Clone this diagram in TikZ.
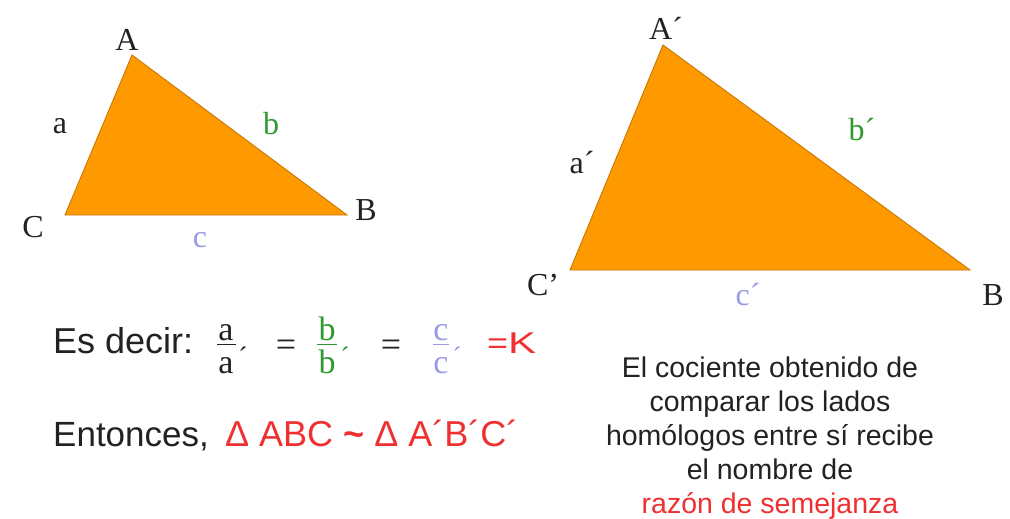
\documentclass[tikz,border=0pt]{standalone}
\usepackage{fontspec}
\setmainfont{Liberation Serif}
\setsansfont{Liberation Sans}
\definecolor{orng}{HTML}{FF9900}
\definecolor{edge}{HTML}{C87800}
\definecolor{grn}{HTML}{2E9A2E}
\definecolor{lav}{HTML}{9A9AE6}
\definecolor{rd}{HTML}{F03030}
\definecolor{txt}{HTML}{222222}
\begin{document}
\begin{tikzpicture}[x=1pt,y=-1pt,
  tri/.style={fill=orng,draw=edge,line width=0.9pt,line join=miter},
  vlab/.style={font=\fontsize{32}{34}\selectfont,inner sep=0pt,text=txt},
  fr/.style={font=\fontsize{34}{34}\selectfont,inner sep=0pt,anchor=base},
  prm/.style={font=\fontsize{28}{28}\selectfont,inner sep=0pt,anchor=base},
  eq/.style={font=\fontsize{36}{36}\selectfont,inner sep=0pt,text=txt},
  bar/.style={line width=1pt},
  big/.style={font=\sffamily\fontsize{36}{38}\selectfont,inner sep=0pt,anchor=base west,text=txt},
  para/.style={font=\sffamily\fontsize{28.5}{34}\selectfont,inner sep=0pt,anchor=base,text=txt}]
\path[use as bounding box,fill=white] (0,0) rectangle (1010,519);
% left triangle
\coordinate (A) at (132,55);
\coordinate (B) at (347,215);
\coordinate (C) at (65,215);
\draw[tri] (A) -- (B) -- (C) -- cycle;
\node[vlab] (lA) at (127,40) {A};
\node[vlab] (lB) at (366,210) {B};
\node[vlab] (lC) at (33,227) {C};
\node[vlab] (la) at (60,126) {a};
\node[vlab,text=grn] (lb) at (271,124) {b};
\node[vlab,text=lav] (lc) at (200,240) {c};
% right triangle
\coordinate (A2) at (663,45);
\coordinate (B2) at (970,270);
\coordinate (C2) at (570,270);
\draw[tri] (A2) -- (B2) -- (C2) -- cycle;
\node[vlab] (lA2) at (666,28) {A´};
\node[vlab] (lB2) at (993,295) {B};
\node[vlab] (lC2) at (543,285) {C'};
\node[vlab] (la2) at (582,163) {a´};
\node[vlab,text=grn] (lb2) at (862,130) {b´};
\node[vlab,text=lav] (lc2) at (748,295) {c´};
% ratios
\node[big] (es) at (53,353) {Es decir:};
% a/a'
\node[fr,text=txt] (na) at (226,340) {a};
\node[fr,text=txt] (da) at (226,373) {a};
\draw[bar,txt] (217,344) -- (236,344);
\node[prm,text=txt] (pa) at (243,366) {´};
\node[eq] (e1) at (286,348) {=};
% b/b'
\node[fr,text=grn] (nb) at (327,340) {b};
\node[fr,text=grn] (db) at (327,373) {b};
\draw[bar,grn] (317,344) -- (337,344);
\node[prm,text=grn] (pb) at (345,366) {´};
\node[eq] (e2) at (391,348) {=};
% c/c'
\node[fr,text=lav] (nc) at (441,340) {c};
\node[fr,text=lav] (dc) at (441,373) {c};
\draw[bar,lav] (433,344) -- (449,344);
\node[prm,text=lav] (pc) at (457,366) {´};
\node[font=\sffamily\fontsize{30}{30}\selectfont,inner sep=0pt,text=rd,anchor=base west] (k) at (487,353) {\scalebox{1.2}[1]{=}\scalebox{1.4}[1]{K}};
\node[big,font=\sffamily\fontsize{35}{38}\selectfont] (ent) at (53,446) {Entonces,};
\node[big,text=rd] (sim) at (225,446) {Δ ABC \textbf{\textasciitilde}\ Δ A´B´C´};
% paragraph
\node[para] (p1) at (770,377) {El cociente obtenido de};
\node[para] (p2) at (770,411) {comparar los lados};
\node[para] (p3) at (770,445) {homólogos entre sí recibe};
\node[para] (p4) at (770,479) {el nombre de};
\node[para,text=rd] (p5) at (770,513) {razón de semejanza};
\end{tikzpicture}
\end{document}
